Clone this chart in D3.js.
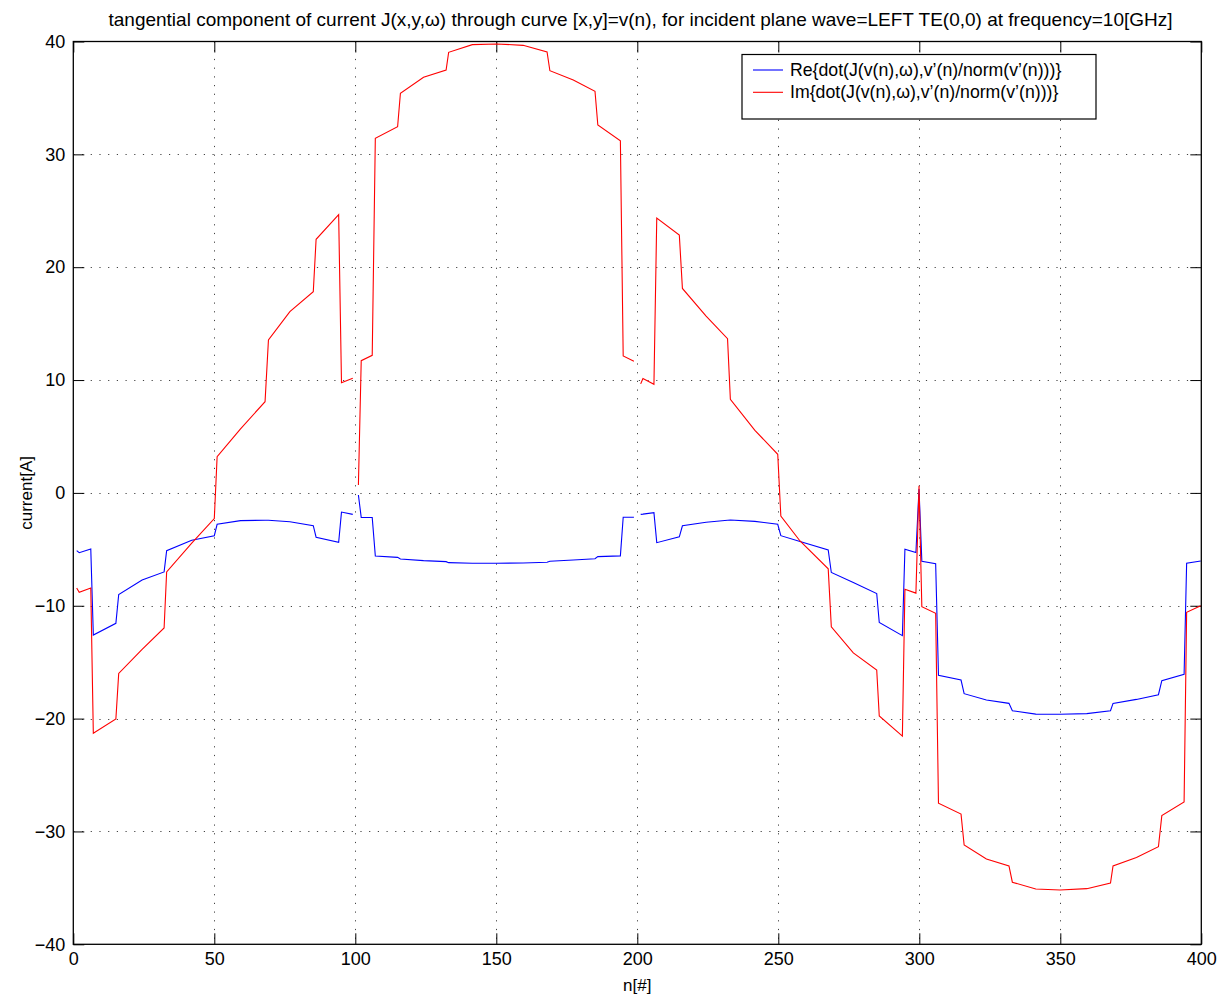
<!DOCTYPE html>
<html>
<head>
<meta charset="utf-8">
<script src="https://cdn.jsdelivr.net/npm/d3@7"></script>
<style>
  html, body { margin: 0; padding: 0; background: #fff; }
  svg { display: block; font-family: "Liberation Sans", Arial, Helvetica, sans-serif; }
</style>
</head>
<body>
<svg id="chart" width="1222" height="1000"></svg>
<script>
// ---- data ----
const nIndex = [1.2, 2.1, 6.2, 7.1, 15.1, 16.1, 24.4, 32.2, 33.1, 42, 50, 51, 59.3, 68, 69.2, 76.8, 85.1, 86.1, 94.1, 95.1, 99.1, 100,
  101.1, 102.1, 106, 107.1, 115, 116, 124.2, 132.2, 133.1, 141.5, 150.1, 159.5, 168, 169, 177.3, 185, 186, 194, 195, 198.8, 200,
  201.2, 202, 205.9, 206.9, 214.9, 216, 224.4, 232, 233, 241.7, 249.8, 250.9, 257.7, 267.7, 268.8, 276.6, 284.9, 285.8, 294, 294.9, 298.8, 299.9, 300.9, 305.8,
  306.8, 314.8, 315.9, 323.8, 331.8, 333, 341.3, 349.9, 359.4, 367.8, 368.7, 377, 384.8, 386, 393.9, 394.8, 399.8];
const reValues = [-5.12, -5.3, -4.97, -12.6, -11.56, -9.0, -7.72, -7.0, -5.12, -4.2, -3.79, -2.78, -2.46, -2.42, -2.42, -2.55, -2.9, -3.93, -4.38, -1.7, -1.9, null,
  -0.19, -2.17, -2.18, -5.6, -5.71, -5.86, -6.0, -6.09, -6.18, -6.24, -6.24, -6.21, -6.15, -6.06, -5.95, -5.83, -5.65, -5.58, -2.16, -2.16, null,
  -1.9, -1.88, -1.75, -4.41, -3.89, -2.91, -2.6, -2.42, -2.4, -2.52, -2.78, -3.79, -4.3, -5.06, -7.05, -7.95, -8.92, -11.48, -12.65, -5.0, -5.28, 0.35, -6.05, -6.27,
  -16.17, -16.58, -17.79, -18.35, -18.65, -19.3, -19.6, -19.62, -19.56, -19.3, -18.65, -18.3, -17.88, -16.64, -16.08, -6.24, -6.03];
const imValues = [-8.43, -8.81, -8.43, -21.3, -20.04, -16.0, -13.86, -11.97, -7.0, -4.45, -2.28, 3.21, 5.68, 8.08, 13.55, 16.06, 17.83, 22.47, 24.65, 9.77, 10.16, null,
  0.7, 11.72, 12.19, 31.42, 32.45, 35.41, 36.83, 37.47, 39.04, 39.72, 39.78, 39.66, 39.07, 37.41, 36.59, 35.59, 32.6, 31.21, 12.13, 11.67, null,
  9.66, 10.13, 9.62, 24.35, 22.85, 18.12, 15.67, 13.67, 8.3, 5.54, 3.42, -2.05, -4.26, -6.73, -11.87, -14.18, -15.7, -19.77, -21.55, -8.54, -8.88, 0.63, -10.09, -10.67,
  -27.5, -28.46, -31.2, -32.44, -33.06, -34.5, -35.1, -35.19, -35.07, -34.57, -33.06, -32.3, -31.35, -28.6, -27.39, -10.58, -10.0];
const xTicks = [0, 50, 100, 150, 200, 250, 300, 350, 400];
const yTicks = [-40, -30, -20, -10, 0, 10, 20, 30, 40];
const seriesNames = ["Re{dot(J(v(n),\u03c9),v\u2019(n)/norm(v\u2019(n)))}", "Im{dot(J(v(n),\u03c9),v\u2019(n)/norm(v\u2019(n)))}"];
const seriesColors = ["#0000ff", "#ff0000"];
const titleText = "tangential component of current J(x,y,\u03c9) through curve [x,y]=v(n), for incident plane wave=LEFT TE(0,0) at frequency=10[GHz]";
const xLabel = "n[#]";
const yLabel = "current[A]";

// ---- layout ----
const svg = d3.select("#chart");
const L = 73.3, R = 1201.3, T = 41.5, B = 944.3;
const x = d3.scaleLinear().domain([0, 400]).range([L, R]);
const y = d3.scaleLinear().domain([-40, 40]).range([B, T]);
const tickLen = 11;

// grid
const grid = svg.append("g").attr("stroke", "#444").attr("stroke-width", 1).attr("stroke-dasharray", "1.2,7.5");
grid.selectAll("line.gx").data(xTicks.slice(1, -1)).join("line")
  .attr("x1", d => Math.round(x(d)) + 0.5).attr("x2", d => Math.round(x(d)) + 0.5)
  .attr("y1", T).attr("y2", B);
grid.selectAll("line.gy").data(yTicks.slice(1, -1)).join("line")
  .attr("y1", d => Math.round(y(d)) + 0.5).attr("y2", d => Math.round(y(d)) + 0.5)
  .attr("x1", L).attr("x2", R);

// axes (MATLAB style, inward ticks on all sides)
const fs = 18;
const axB = svg.append("g").attr("transform", `translate(0,${B})`)
  .call(d3.axisBottom(x).tickValues(xTicks).tickSizeInner(-tickLen).tickSizeOuter(0).tickPadding(5));
const axT = svg.append("g").attr("transform", `translate(0,${T})`)
  .call(d3.axisTop(x).tickValues(xTicks).tickSizeInner(-tickLen).tickSizeOuter(0).tickFormat(""));
const axL = svg.append("g").attr("transform", `translate(${L},0)`)
  .call(d3.axisLeft(y).tickValues(yTicks).tickSizeInner(-tickLen).tickSizeOuter(0).tickPadding(8));
const axR = svg.append("g").attr("transform", `translate(${R},0)`)
  .call(d3.axisRight(y).tickValues(yTicks).tickSizeInner(-tickLen).tickSizeOuter(0).tickFormat(""));
[axB, axT, axL, axR].forEach(a => {
  a.select(".domain").remove();
  a.selectAll("line").attr("stroke", "#000").attr("stroke-width", 1);
  a.selectAll("text").attr("font-size", fs).attr("font-family", "Liberation Sans, Arial, sans-serif").attr("fill", "#000");
});
axB.selectAll("text").attr("dy", "0.9em");

// data lines
const series = [reValues, imValues];
const line = d3.line().defined(d => d[1] !== null).x(d => x(d[0])).y(d => y(d[1]));
series.forEach((vals, i) => {
  svg.append("path")
    .datum(nIndex.map((n, j) => [n, vals[j]]))
    .attr("fill", "none").attr("stroke", seriesColors[i]).attr("stroke-width", 1.1)
    .attr("d", line);
});

// box
svg.append("rect").attr("x", L).attr("y", T).attr("width", R - L).attr("height", B - T)
  .attr("fill", "none").attr("stroke", "#000").attr("stroke-width", 1.3);

// title & labels
svg.append("text").attr("x", 640.5).attr("y", 26).attr("text-anchor", "middle")
  .attr("font-size", 19).text(titleText);
svg.append("text").attr("x", (L + R) / 2).attr("y", 991).attr("text-anchor", "middle")
  .attr("font-size", 17).text(xLabel);
svg.append("text").attr("transform", `translate(32,${(T + B) / 2}) rotate(-90)`).attr("text-anchor", "middle")
  .attr("font-size", 17).text(yLabel);

// legend
const lg = svg.append("g");
lg.append("rect").attr("x", 742).attr("y", 54.5).attr("width", 354).attr("height", 64.5)
  .attr("fill", "#fff").attr("stroke", "#000").attr("stroke-width", 1.2);
seriesNames.forEach((name, i) => {
  const yy = 70 + i * 22.3;
  lg.append("line").attr("x1", 753).attr("x2", 783).attr("y1", yy).attr("y2", yy)
    .attr("stroke", seriesColors[i]).attr("stroke-width", 1.1);
  lg.append("text").attr("x", 790).attr("y", yy).attr("dy", "0.35em")
    .attr("font-size", 17.7).text(name);
});
</script>
</body>
</html>
